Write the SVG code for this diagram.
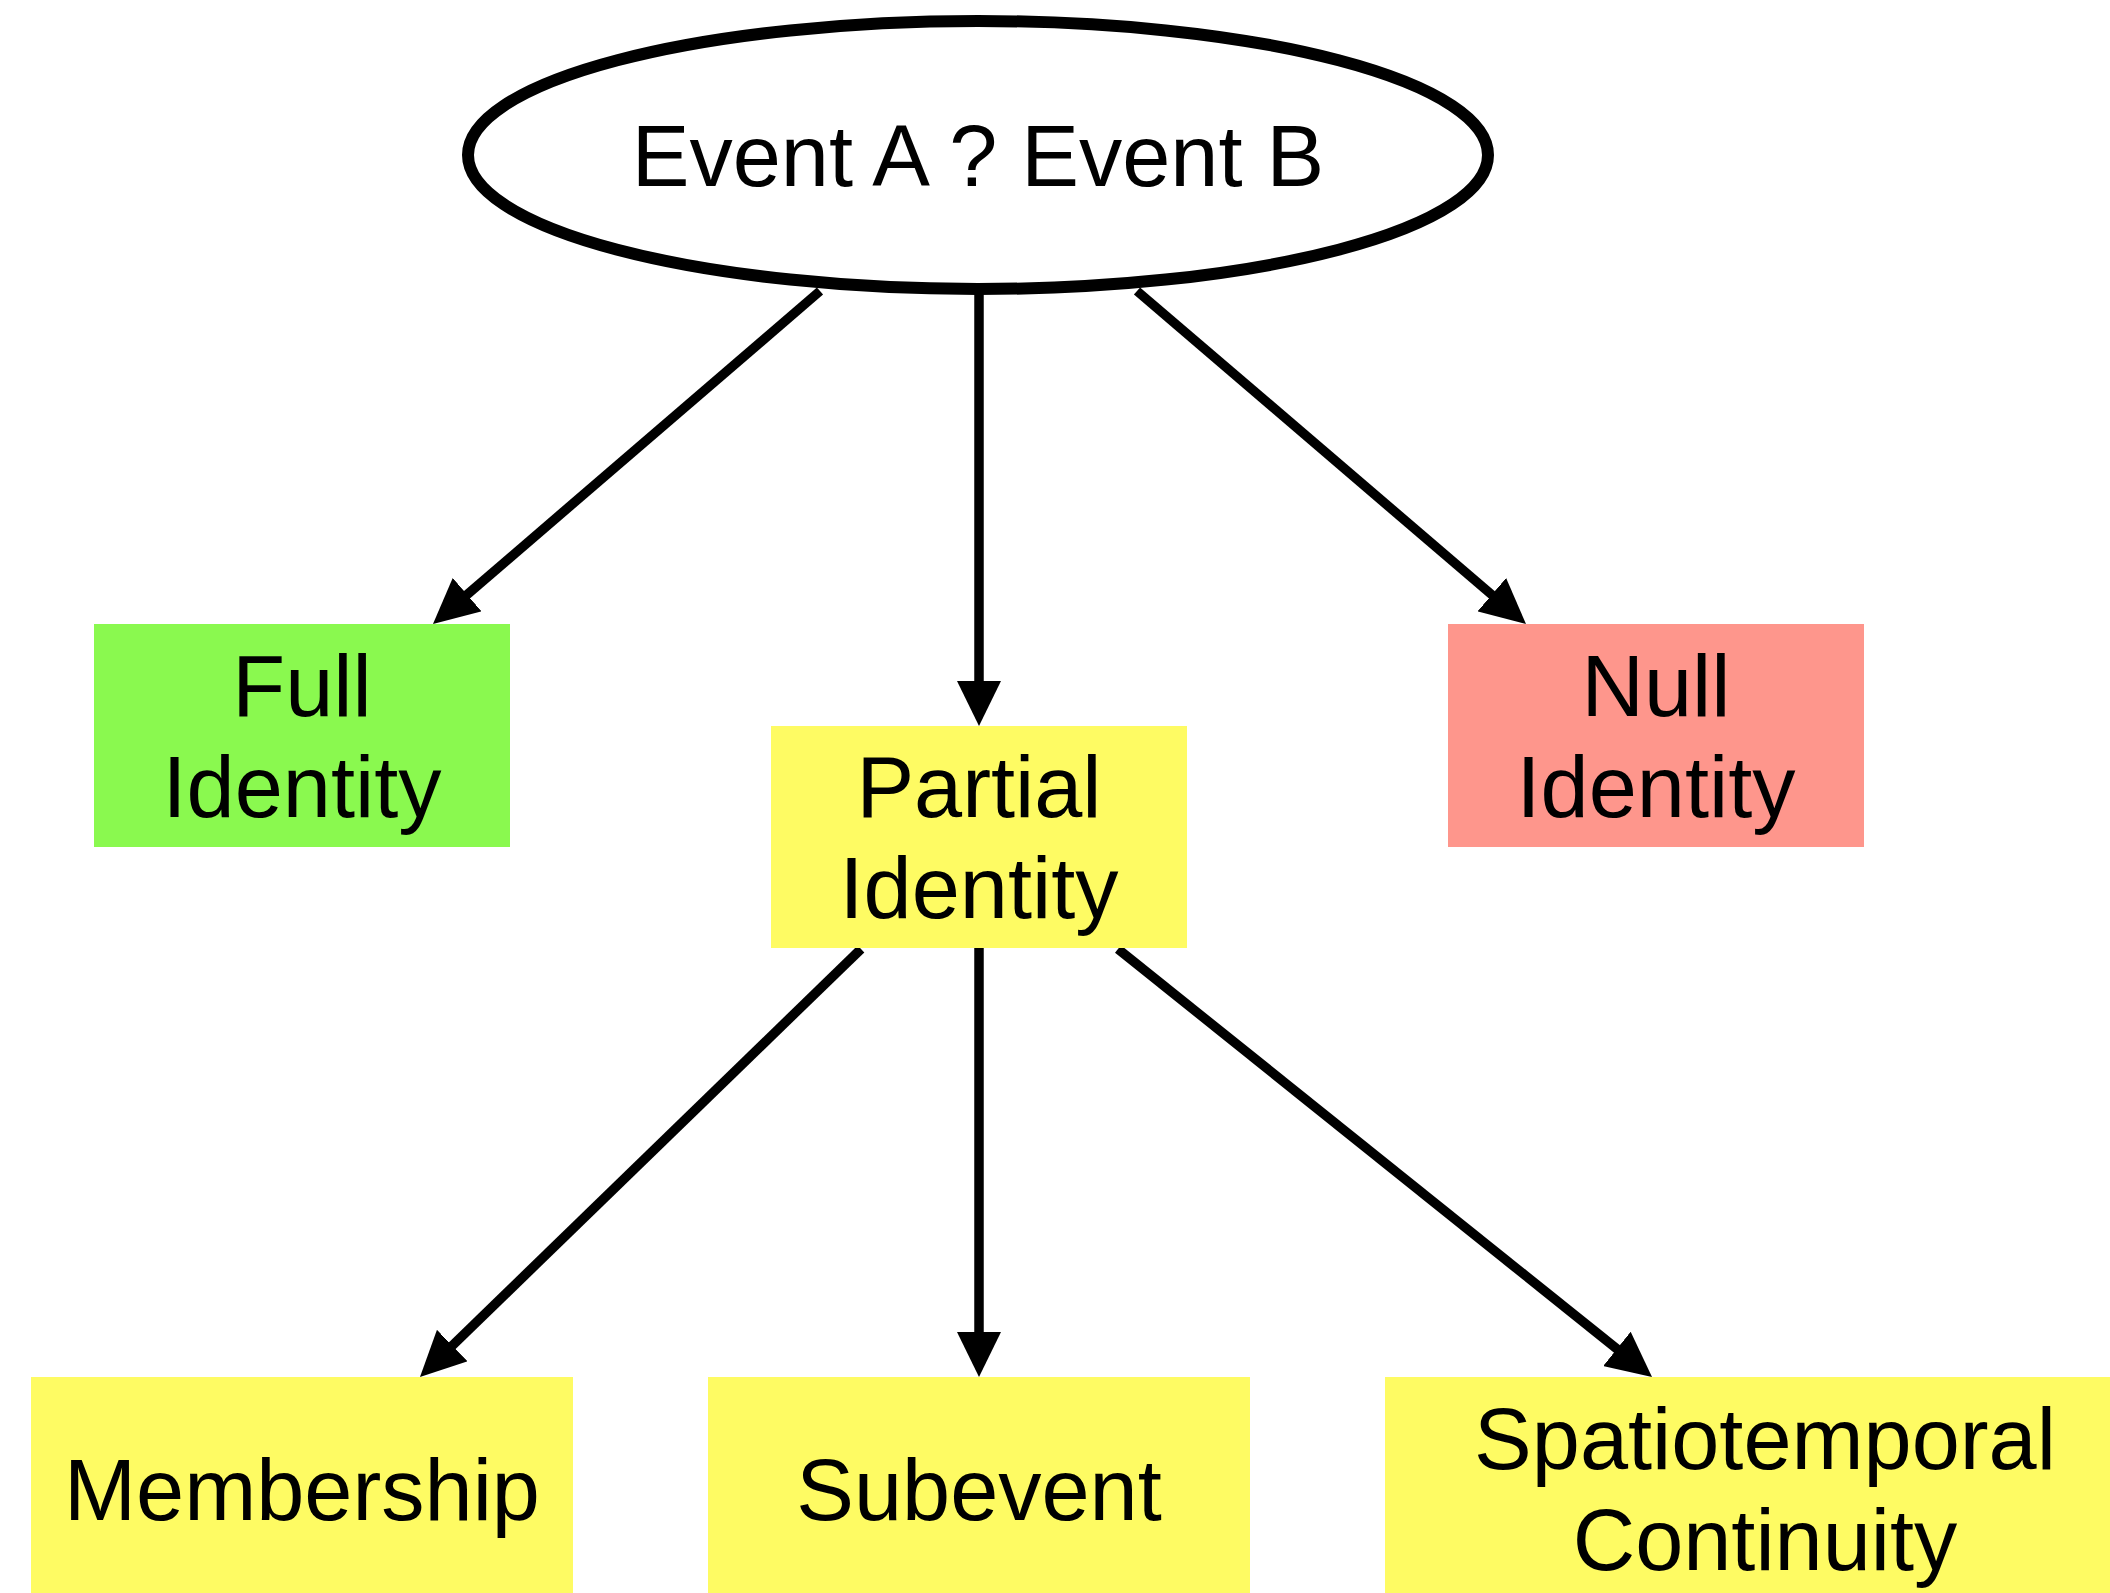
<svg xmlns="http://www.w3.org/2000/svg" width="2110" height="1593" viewBox="0 0 2110 1593">
<style>
text{font-family:"Liberation Sans",Arial,Helvetica,sans-serif;font-size:86.5px;fill:#000;text-anchor:middle}
.edge{stroke:#000;stroke-width:9.5;fill:none;marker-end:url(#arr)}
.green{fill:#8AF94F}
.yellow{fill:#FEFB63}
.red{fill:#FE968C}
</style>
<defs>
<marker id="arr" markerUnits="userSpaceOnUse" markerWidth="45" markerHeight="44" viewBox="0 0 45 44" refX="5" refY="22" orient="auto">
<path d="M0,0 L45,22 L0,44 z" fill="#000"/>
</marker>
</defs>
<rect width="2110" height="1593" fill="#fff"/>
<g id="connectors">
<line class="edge" x1="820" y1="291" x2="463.3" y2="597.9"/>
<line class="edge" x1="979" y1="291" x2="979" y2="686"/>
<line class="edge" x1="1137" y1="291" x2="1495.6" y2="598"/>
<line class="edge" x1="861" y1="949" x2="448.7" y2="1349.1"/>
<line class="edge" x1="979" y1="948" x2="979" y2="1337"/>
<line class="edge" x1="1118" y1="949" x2="1620.8" y2="1352"/>
</g>
<g id="root">
<ellipse cx="978" cy="155" rx="510" ry="134" fill="#fff" stroke="#000" stroke-width="12"/>
<text x="978" y="186">Event A ? Event B</text>
</g>
<g id="full">
<rect class="green" x="94" y="624" width="416" height="223"/>
<text x="302" y="716">Full</text>
<text x="302" y="817">Identity</text>
</g>
<g id="partial">
<rect class="yellow" x="771" y="726" width="416" height="222"/>
<text x="979" y="817">Partial</text>
<text x="979" y="918">Identity</text>
</g>
<g id="null">
<rect class="red" x="1448" y="624" width="416" height="223"/>
<text x="1656" y="716">Null</text>
<text x="1656" y="817">Identity</text>
</g>
<g id="membership">
<rect class="yellow" x="31" y="1377" width="542" height="216"/>
<text x="302" y="1520">Membership</text>
</g>
<g id="subevent">
<rect class="yellow" x="708" y="1377" width="542" height="216"/>
<text x="979" y="1520">Subevent</text>
</g>
<g id="spatio">
<rect class="yellow" x="1385" y="1377" width="760" height="216"/>
<text x="1765" y="1469">Spatiotemporal</text>
<text x="1765" y="1570">Continuity</text>
</g>
</svg>
